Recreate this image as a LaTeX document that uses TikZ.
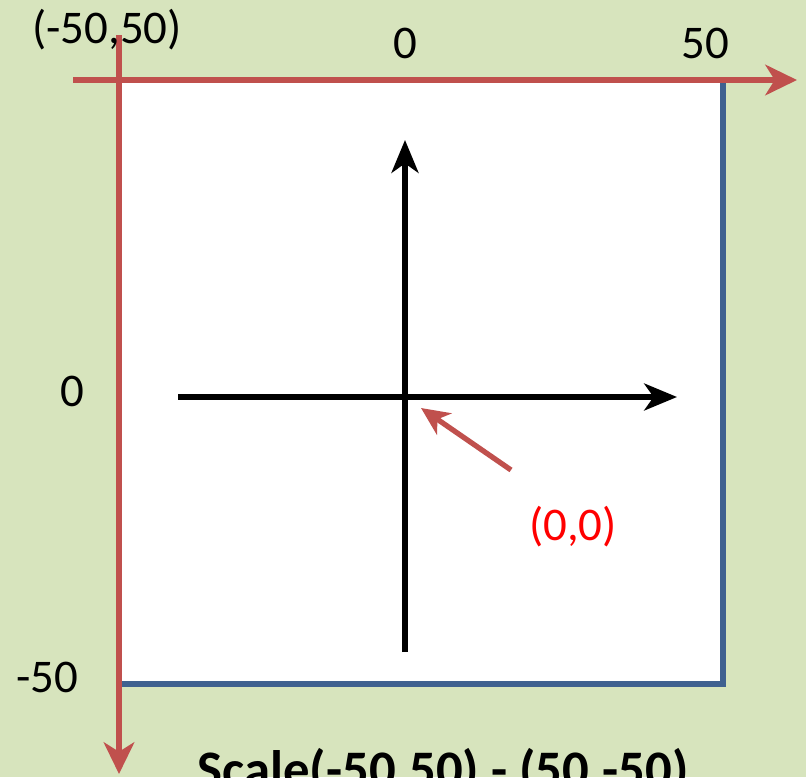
\documentclass[tikz,border=0pt]{standalone}
\usepackage{fontspec}
\setmainfont{Carlito}
\usepackage{tikz}
\usetikzlibrary{arrows.meta}
\definecolor{bggreen}{HTML}{D7E4BD}
\definecolor{axisred}{HTML}{C0504D}
\definecolor{frameblue}{HTML}{3F6190}

\begin{document}
\begin{tikzpicture}[
    x=0.03cm, y=-0.03cm,
    lbl/.style={font=\fontsize{40}{48}\selectfont, anchor=base, inner sep=0pt},
    redaxis/.style={draw=axisred, line width=4.8pt, -{Stealth[length=27pt, width=26pt, inset=8pt]}},
    blackaxis/.style={draw=black, line width=4.5pt, -{Stealth[length=28pt, width=23pt, inset=8pt]}},
    pointer/.style={draw=axisred, line width=4.5pt, -{Stealth[length=24pt, width=22pt, inset=7pt]}}
  ]
    \fill[bggreen] (0,0) rectangle (806,777);
    \useasboundingbox (0,0) rectangle (806,777);

    % screen area
    \fill[white] (119,80) rectangle (723,684);
    \draw[frameblue, line width=4.3pt, line cap=rect] (119,684) -- (723,684) -- (723,80);

    % red screen axes
    \coordinate (xs) at (73,80);
    \coordinate (xe) at (797,80);
    \coordinate (ys) at (119,35);
    \coordinate (ye) at (119,774);
    \draw[redaxis] (xs) -- (xe);
    \draw[redaxis] (ys) -- (ye);

    % black scaled axes
    \coordinate (vb) at (405,652);
    \coordinate (vt) at (405,140);
    \coordinate (hl) at (178,397);
    \coordinate (hr) at (677,397);
    \draw[blackaxis] (vb) -- (vt);
    \draw[blackaxis] (hl) -- (hr);

    % labels
    \node[lbl] (tl) at (107,43) {(-50,50)};
    \node[lbl] (top0) at (405,58) {0};
    \node[lbl] (top50) at (705,58) {50};
    \node[lbl] (left0) at (72,406) {0};
    \node[lbl] (leftm50) at (47,692) {-50};
    \node[lbl, text=red] (origin) at (573,540) {(0,0)};
    \node[lbl, font=\fontsize{45}{54}\selectfont\bfseries] (caption) at (443,787) {Scale(-50,50) - (50,-50)};

    % pointer to origin
    \coordinate (ps) at (511,470);
    \coordinate (pe) at (421,408);
    \draw[pointer] (ps) -- (pe);
  \end{tikzpicture}
\end{document}
